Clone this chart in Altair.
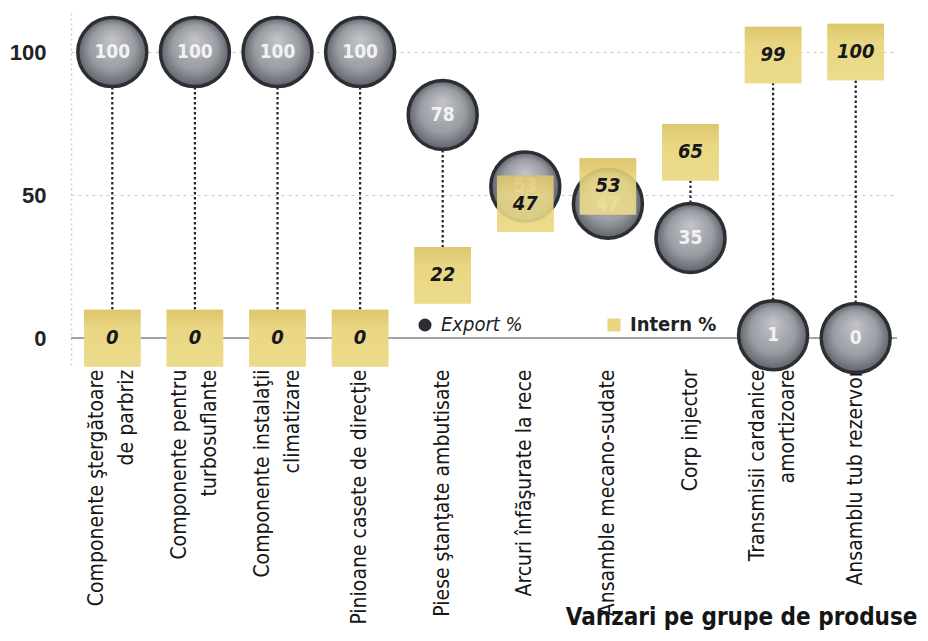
import altair as alt
import pandas as pd

categories = [
    "Componente ştergătoare|de parbriz",
    "Componente pentru|turbosuflante",
    "Componente instalaţii|climatizare",
    "Pinioane casete de direcţie",
    "Piese ştanţate ambutisate",
    "Arcuri înfăşurate la rece",
    "Ansamble mecano-sudate",
    "Corp injector",
    "Transmisii cardanice|amortizoare",
    "Ansamblu tub rezervor",
]
export_pct = [100, 100, 100, 100, 78, 53, 47, 35, 1, 0]
intern_pct = [0, 0, 0, 0, 22, 47, 53, 65, 99, 100]
series_names = ["Export %", "Intern %"]
y_ticks = [0, 50, 100]

wide = pd.DataFrame({"cat": categories, "export": export_pct, "intern": intern_pct})
long = pd.concat([
    pd.DataFrame({"cat": categories, "series": series_names[0], "value": export_pct}),
    pd.DataFrame({"cat": categories, "series": series_names[1], "value": intern_pct}),
])

FONT = "DejaVu Sans Condensed, Liberation Sans, Arial, sans-serif"
DARK = "#2b2e33"
YELLOW = "#e8d57f"

circle_fill = alt.RadialGradient(
    gradient="radial", x1=0.5, y1=0.3, r1=0.0, x2=0.5, y2=0.5, r2=0.5,
    stops=[
        alt.GradientStop(offset=0, color="#c3c5cb"),
        alt.GradientStop(offset=0.65, color="#9a9ca3"),
        alt.GradientStop(offset=1, color="#5f6268"),
    ],
)
square_fill = alt.LinearGradient(
    gradient="linear", x1=0, y1=0, x2=0, y2=1,
    stops=[
        alt.GradientStop(offset=0, color="#dcc46a"),
        alt.GradientStop(offset=0.35, color="#e9d783"),
        alt.GradientStop(offset=1, color="#ecdc8e"),
    ],
)

x_enc = alt.X(
    "cat:N", sort=categories, title="Vanzari  pe grupe de produse",
    scale=alt.Scale(paddingInner=0, paddingOuter=0),
    axis=alt.Axis(
        labelAngle=-90, labelAlign="right", labelBaseline="middle",
        labelExpr="split(datum.label, '|')", labelLineHeight=30,
        labelOffset={"expr": "indexof(datum.value, '|') >= 0 ? -15 : 0"},
        labelFont=FONT, labelFontSize=21, labelColor="#151515", labelPadding=4,
        labelLimit=400, ticks=False, domain=False, grid=False,
        titleFont=FONT, titleFontSize=24, titleFontWeight="bold", titleColor="#151515",
        titleAlign="right", titleBaseline="alphabetic", titleX=846, titleY=259,
        titleAngle=0,
    ),
)
y_scale = alt.Scale(domain=[-9.4, 114], nice=False, zero=False)
y_axis = alt.Axis(
    values=y_ticks, title=None, labelFont="Liberation Sans, Arial, sans-serif",
    labelFontSize=22, labelFontWeight="bold", labelColor="#1e2326", labelPadding=25,
    ticks=False, domain=True, domainColor="#cfcfcf", domainDash=[2, 3], domainWidth=1.5,
    grid=True, gridColor="#c9c9c9", gridDash=[3, 4], gridWidth=1.2,
)

base_line = alt.Chart(pd.DataFrame({"v": [0]})).mark_rule(color="#8a8a8a", strokeWidth=1.5).encode(
    y=alt.Y("v:Q", scale=y_scale, axis=y_axis)
)

rules = alt.Chart(wide).mark_rule(color="#1f2226", strokeWidth=2.2, strokeDash=[2.5, 2.5]).encode(
    x=x_enc,
    y=alt.Y("export:Q", scale=y_scale),
    y2="intern:Q",
)

color_scale = alt.Scale(domain=series_names, range=[DARK, YELLOW])
shape_scale = alt.Scale(domain=series_names, range=["circle", "square"])
legend = alt.Legend(
    title=None, orient="none", direction="horizontal", legendX=344, legendY=303,
    labelFont=FONT, labelFontSize=20, labelColor="#1e2326",
    labelFontStyle={"expr": "datum.label == 'Export %' ? 'italic' : 'normal'"},
    labelFontWeight={"expr": "datum.label == 'Export %' ? 'normal' : 'bold'"},
    symbolSize=170, symbolStrokeWidth=0, columnPadding=81, labelOffset=6,
)

circles = alt.Chart(long).transform_filter(alt.datum.series == series_names[0]).mark_point(
    filled=True, size=4761, fill=circle_fill, stroke=DARK, strokeWidth=3.5, opacity=1
).encode(
    x=x_enc, y=alt.Y("value:Q", scale=y_scale),
    shape=alt.Shape("series:N", scale=shape_scale, legend=legend),
)

squares_legend = alt.Chart(long).transform_filter(alt.datum.series == series_names[1]).mark_point(
    filled=True, size=3200, opacity=1, strokeWidth=0
).encode(
    x=x_enc, y=alt.Y("value:Q", scale=y_scale),
    color=alt.Color("series:N", scale=color_scale, legend=legend),
    shape=alt.Shape("series:N", scale=shape_scale, legend=legend),
)

squares_fill = alt.Chart(long).transform_filter(alt.datum.series == series_names[1]).mark_point(
    filled=True, size=3200, opacity=0.88, strokeWidth=0, fill=square_fill, shape="square"
).encode(
    x=x_enc, y=alt.Y("value:Q", scale=y_scale),
)

circle_text = alt.Chart(long).transform_filter(alt.datum.series == series_names[0]).mark_text(
    font=FONT, fontSize=19, fontWeight="bold", color="#f2f2f2", baseline="middle"
).encode(x=x_enc, y=alt.Y("value:Q", scale=y_scale), text="value:Q")

square_text = alt.Chart(long).transform_filter(alt.datum.series == series_names[1]).mark_text(
    font=FONT, fontSize=20, fontWeight="bold", fontStyle="italic", color="#15181c", baseline="middle"
).encode(x=x_enc, y=alt.Y("value:Q", scale=y_scale), text="value:Q")

chart = alt.layer(base_line, rules, squares_legend, circles, circle_text, squares_fill, square_text).properties(
    width=826, height=353,
    autosize=alt.AutoSizeParams(type="none"),
    padding={"left": 63, "top": 4, "right": 23, "bottom": 266},
).configure_view(stroke=None)

chart.save("out.html", embed_options={"renderer": "svg", "actions": False})
